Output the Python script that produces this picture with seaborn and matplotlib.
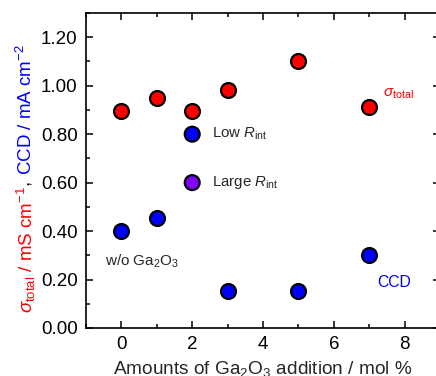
import matplotlib
matplotlib.use("Agg")
import matplotlib.pyplot as plt
import seaborn as sns
import pandas as pd
from matplotlib.ticker import MultipleLocator

# ---- data ----
sigma_x = [0, 1, 2, 3, 5, 7]
sigma_y = [0.895, 0.949, 0.897, 0.981, 1.100, 0.913]
ccd_x = [0, 1, 3, 5, 7]
ccd_y = [0.40, 0.452, 0.152, 0.152, 0.30]
key_x = [2, 2]
key_y = [0.80, 0.60]
key_labels = ["Low $R$$_{\\rm int}$", "Large $R$$_{\\rm int}$"]
key_colors = ["#0000ff", "#8000ff"]
x_ticks = [0, 2, 4, 6, 8]
y_ticks = [0.0, 0.2, 0.4, 0.6, 0.8, 1.0, 1.2]

sns.set_style("ticks")
plt.rcParams["font.family"] = ["Liberation Sans", "DejaVu Sans"]
plt.rcParams["mathtext.fontset"] = "custom"
plt.rcParams["mathtext.rm"] = "Liberation Sans"
plt.rcParams["mathtext.it"] = "Liberation Sans:italic"
plt.rcParams["mathtext.bf"] = "Liberation Sans:bold"

fig = plt.figure(figsize=(4.36, 3.76), dpi=100)
ax = fig.add_axes([86 / 436, 48 / 376, (440 - 86) / 436, (328 - 13) / 376])

df_s = pd.DataFrame({"x": sigma_x, "y": sigma_y})
df_c = pd.DataFrame({"x": ccd_x, "y": ccd_y})
df_k = pd.DataFrame({"x": key_x, "y": key_y, "c": key_colors})

ms = 115
sns.scatterplot(data=df_s, x="x", y="y", ax=ax, color="#ff0000", s=ms,
                edgecolor="black", linewidth=1.6, zorder=3, legend=False)
sns.scatterplot(data=df_c, x="x", y="y", ax=ax, color="#0000ff", s=ms,
                edgecolor="black", linewidth=1.6, zorder=3, legend=False)
sns.scatterplot(data=df_k, x="x", y="y", ax=ax, hue="c", palette=key_colors,
                s=ms, edgecolor="black", linewidth=1.6, zorder=3, legend=False)

for kx, ky, lab in zip(key_x, key_y, key_labels):
    ax.text(kx + 0.57, ky, lab, fontsize=10.8, va="center", ha="left")

ax.text(-0.45, 0.275, "w/o Ga$_2$O$_3$", fontsize=11, va="center", ha="left")
ax.text(7.4, 0.965, "$\\sigma_{\\rm total}$", fontsize=11, color="#ff0000",
        va="center", ha="left")
ax.text(7.23, 0.186, "CCD", fontsize=11.3, color="#0000ff", va="center", ha="left")

ax.set_xlim(-1, 9)
ax.set_ylim(0, 1.3)
ax.set_xticks(x_ticks)
ax.set_yticks(y_ticks)
ax.set_yticklabels([f"{v:.2f}" for v in y_ticks])
ax.xaxis.set_minor_locator(MultipleLocator(1))
ax.yaxis.set_minor_locator(MultipleLocator(0.1))
ax.tick_params(which="both", direction="in", top=True, right=True,
               labelsize=13.5, width=1.1, color="black", labelcolor="black")
ax.tick_params(which="major", length=5, pad=6)
ax.tick_params(which="minor", length=3)
for sp in ax.spines.values():
    sp.set_linewidth(1.2)
    sp.set_color("black")

ax.set_xlabel("Amounts of Ga$_2$O$_3$ addition / mol %", fontsize=13.7, labelpad=4)
ax.set_ylabel("")

# multi-coloured y label, stacked bottom to top
parts = [("$\\sigma_{\\rm total}$ / mS cm$^{-1}$", "#ff0000"),
         (", ", "black"),
         ("CCD / mA cm$^{-2}$", "#0000ff")]
fig.canvas.draw()
renderer = fig.canvas.get_renderer()
xpos = 26 / 436
ypos = (376 - 313) / 376
for txt, col in parts:
    t = fig.text(xpos, ypos, txt, rotation=90, color=col, fontsize=13.5,
                 ha="center", va="bottom")
    bb = t.get_window_extent(renderer=renderer)
    ypos += bb.height / fig.bbox.height

fig.savefig("out.png", dpi=100)
